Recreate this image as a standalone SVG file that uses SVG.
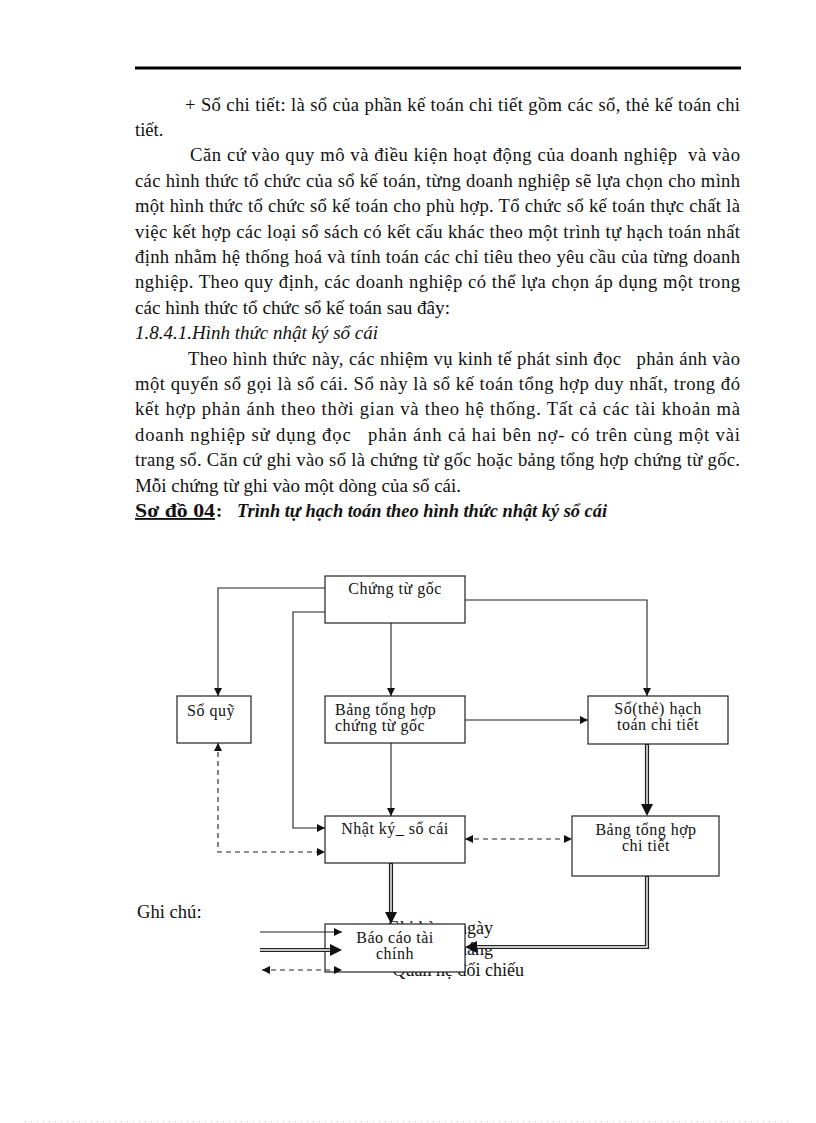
<svg xmlns="http://www.w3.org/2000/svg" width="816" height="1123" viewBox="0 0 816 1123">
<style>
.body{font-family:"Liberation Serif","Times New Roman",serif;font-size:18.6px;fill:#111;white-space:pre}
.it{font-style:italic}
.bd{font-weight:bold}
.ul{text-decoration:underline}
.box{fill:#fff;stroke:#222;stroke-width:1.2}
.lbl{font-family:"Liberation Serif","Times New Roman",serif;font-size:16px;fill:#111;letter-spacing:0.5px}
.c{text-anchor:middle}
.ln{fill:none;stroke:#222;stroke-width:1.1}
.dash{fill:none;stroke:#222;stroke-width:1.1;stroke-dasharray:5 4}
.dbl{fill:none;stroke:#222;stroke-width:4.2}
.dblin{fill:none;stroke:#fff;stroke-width:1.4}
.leg{font-family:"Liberation Serif","Times New Roman",serif;font-size:18px;fill:#111;text-anchor:end}
</style>
<defs>
<marker id="ah" viewBox="0 0 10 10" refX="10" refY="5" markerUnits="userSpaceOnUse" markerWidth="9" markerHeight="8" orient="auto-start-reverse">
<path d="M0,0 L10,5 L0,10 z" fill="#111"/>
</marker>
<marker id="bh" viewBox="0 0 12 12" refX="0" refY="6" markerUnits="userSpaceOnUse" markerWidth="12" markerHeight="12" orient="auto">
<path d="M0,0 L12,6 L0,12 z" fill="#111"/>
</marker>
</defs>
<rect width="816" height="1123" fill="#fff"/>
<line x1="135" y1="68" x2="741" y2="68" stroke="#000" stroke-width="3"/>
<g id="text">
<text class="body" x="185" y="110.6" textLength="555" lengthAdjust="spacing">+ Sổ chi tiết: là sổ của phần kế toán chi tiết gồm các sổ, thẻ kế toán chi</text>
<text class="body" x="135" y="136">tiết.</text>
<text class="body" x="190" y="161.4" textLength="550" lengthAdjust="spacing">Căn cứ vào quy mô và điều kiện hoạt động của doanh nghiệp  và vào</text>
<text class="body" x="135" y="186.8" textLength="605" lengthAdjust="spacing">các hình thức tổ chức của sổ kế toán, từng doanh nghiệp sẽ lựa chọn cho mình</text>
<text class="body" x="135" y="212.2" textLength="605" lengthAdjust="spacing">một hình thức tổ chức sổ kế toán cho phù hợp. Tổ chức sổ kế toán thực chất là</text>
<text class="body" x="135" y="237.6" textLength="605" lengthAdjust="spacing">việc kết hợp các loại sổ sách có kết cấu khác theo một trình tự hạch toán nhất</text>
<text class="body" x="135" y="263" textLength="605" lengthAdjust="spacing">định nhằm hệ thống hoá và tính toán các chỉ tiêu theo yêu cầu của từng doanh</text>
<text class="body" x="135" y="288.4" textLength="605" lengthAdjust="spacing">nghiệp. Theo quy định, các doanh nghiệp có thể lựa chọn áp dụng một trong</text>
<text class="body" x="135" y="313.8" textLength="315" lengthAdjust="spacingAndGlyphs">các hình thức tổ chức sổ kế toán sau đây:</text>
<text class="body it" x="135" y="339.2" textLength="243" lengthAdjust="spacingAndGlyphs">1.8.4.1.Hình thức nhật ký sổ cái</text>
<text class="body" x="188" y="364.6" textLength="552" lengthAdjust="spacing">Theo hình thức này, các nhiệm vụ kinh tế phát sinh đọc   phản ánh vào</text>
<text class="body" x="135" y="390" textLength="605" lengthAdjust="spacing">một quyển sổ gọi là sổ cái. Sổ này là sổ kế toán tổng hợp duy nhất, trong đó</text>
<text class="body" x="135" y="415.4" textLength="605" lengthAdjust="spacing">kết hợp phản ánh theo thời gian và theo hệ thống. Tất cả các tài khoản mà</text>
<text class="body" x="135" y="440.8" textLength="605" lengthAdjust="spacing">doanh nghiệp sử dụng đọc   phản ánh cả hai bên nợ- có trên cùng một vài</text>
<text class="body" x="135" y="466.2" textLength="605" lengthAdjust="spacing">trang sổ. Căn cứ ghi vào sổ là chứng từ gốc hoặc bảng tổng hợp chứng từ gốc.</text>
<text class="body" x="135" y="491.6" textLength="326" lengthAdjust="spacingAndGlyphs">Mỗi chứng từ ghi vào một dòng của sổ cái.</text>
<text class="body bd ul" x="135" y="517" textLength="80" lengthAdjust="spacingAndGlyphs">Sơ đồ 04</text>
<text class="body bd" x="216" y="517">:</text>
<text class="body bd it" x="237" y="517" textLength="370" lengthAdjust="spacingAndGlyphs">Trình tự hạch toán theo hình thức nhật ký sổ cái</text>
</g>
<g id="legend-text">
<text class="body" x="137" y="918">Ghi chú:</text>
<text class="leg" x="493" y="934">Ghi hàng ngày</text>
<text class="leg" x="493" y="955">Ghi cuối tháng</text>
<text class="leg" x="524" y="976">Quan hệ đối chiếu</text>
</g>
<g id="connectors">
<polyline class="ln" points="325,588 218,588 218,696" marker-end="url(#ah)"/>
<polyline class="ln" points="325,612 293,612 293,828 325,828" marker-end="url(#ah)"/>
<line class="ln" x1="391" y1="623" x2="391" y2="696" marker-end="url(#ah)"/>
<polyline class="ln" points="465,600 647,600 647,696" marker-end="url(#ah)"/>
<line class="ln" x1="465" y1="720" x2="588" y2="720" marker-end="url(#ah)"/>
<line class="ln" x1="391" y1="743" x2="391" y2="816" marker-end="url(#ah)"/>
<polyline class="dash" points="218,743 218,852 325,852" marker-start="url(#ah)" marker-end="url(#ah)"/>
<line class="dash" x1="465" y1="839" x2="572" y2="839" marker-start="url(#ah)" marker-end="url(#ah)"/>
<line class="dbl" x1="647" y1="744" x2="647" y2="804" marker-end="url(#bh)"/>
<line class="dblin" x1="647" y1="745" x2="647" y2="804"/>
<line class="dbl" x1="391" y1="863" x2="391" y2="912" marker-end="url(#bh)"/>
<line class="dblin" x1="391" y1="864" x2="391" y2="912"/>
<polyline class="dbl" points="647,876 647,947 477,947" marker-end="url(#bh)"/>
<polyline class="dblin" points="647,877 647,947 477,947"/>
</g>
<g id="n-chungtugoc">
<rect class="box" x="325" y="576" width="140" height="47"/>
<text class="lbl c" x="395" y="594">Chứng từ gốc</text>
</g>
<g id="n-soquy">
<rect class="box" x="177" y="696" width="74" height="47"/>
<text class="lbl" x="187" y="716">Sổ quỹ</text>
</g>
<g id="n-bangthctg">
<rect class="box" x="325" y="696" width="140" height="47"/>
<text class="lbl" x="335" y="715">Bảng tổng hợp</text>
<text class="lbl" x="335" y="731">chứng từ gốc</text>
</g>
<g id="n-sothe">
<rect class="box" x="588" y="696" width="140" height="48"/>
<text class="lbl c" x="658" y="714">Sổ(thẻ) hạch</text>
<text class="lbl c" x="658" y="730">toán chi tiết</text>
</g>
<g id="n-nhatky">
<rect class="box" x="325" y="816" width="140" height="47"/>
<text class="lbl c" x="395" y="834">Nhật ký_ sổ cái</text>
</g>
<g id="n-bangthct">
<rect class="box" x="572" y="816" width="147" height="60"/>
<text class="lbl c" x="646" y="835">Bảng tổng hợp</text>
<text class="lbl c" x="646" y="851">chi tiết</text>
</g>
<g id="n-baocao">
<rect class="box" x="325" y="924" width="140" height="48"/>
<text class="lbl c" x="395" y="943">Báo cáo tài</text>
<text class="lbl c" x="395" y="959">chính</text>
</g>
<g id="legend-arrows">
<line class="ln" x1="260" y1="932" x2="342" y2="932" marker-end="url(#ah)"/>
<line class="dbl" x1="260" y1="950" x2="330" y2="950" marker-end="url(#bh)"/>
<line class="dblin" x1="260" y1="950" x2="330" y2="950"/>
<line class="dash" x1="262" y1="970" x2="342" y2="970" marker-start="url(#ah)" marker-end="url(#ah)"/>
</g>
<line x1="25" y1="1121.5" x2="792" y2="1121.5" stroke="#ccc" stroke-width="1" stroke-dasharray="1 5"/>
</svg>
